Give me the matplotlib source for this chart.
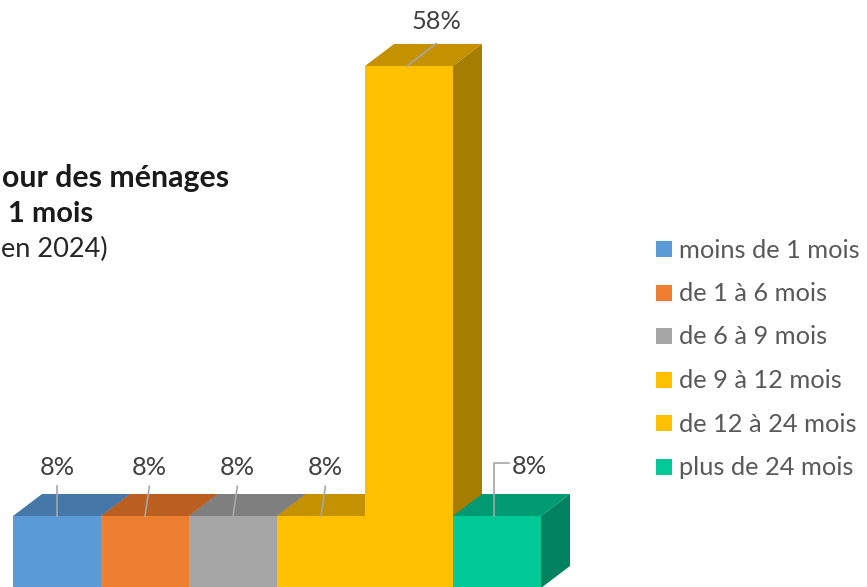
import matplotlib
matplotlib.use("Agg")
import matplotlib.pyplot as plt
from matplotlib.patches import Polygon, Rectangle

categories = ["moins de 1 mois", "de 1 à 6 mois", "de 6 à 9 mois",
              "de 9 à 12 mois", "de 12 à 24 mois", "plus de 24 mois"]
values = [8, 8, 8, 8, 58, 8]
labels = ["8%", "8%", "8%", "8%", "58%", "8%"]
title_lines = ["our des ménages", "1 mois", "en 2024)"]

front_colors = ["#5B9BD5", "#ED7D31", "#A5A5A5", "#FFC000", "#FFC000", "#00C896"]
top_colors = ["#4677A9", "#BB5F21", "#7F7F7F", "#C49200", "#C49200", "#009B72"]
side_colors = ["#3A6690", "#A0501B", "#6E6E6E", "#A57D00", "#A57D00", "#008261"]

W, H = 867, 587
fig = plt.figure(figsize=(W / 100, H / 100), dpi=100)
ax = fig.add_axes([0, 0, 1, 1])
ax.axis("off")
ax.set_xlim(-57 / 88, (W - 57) / 88)
ax.set_ylim(0.11, 65.33)

FONT = ["Lato", "DejaVu Sans"]
dx, dy = 29 / 88, 22 / 9
x = list(range(len(values)))
bars = ax.bar(x, values, width=1.0, color=front_colors, linewidth=0)
for i, (b, v) in enumerate(zip(bars, values)):
    z = 10 + i
    b.set_zorder(z)
    l, r = i - 0.5, i + 0.5
    top = Polygon([(l, v), (r, v), (r + dx, v + dy), (l + dx, v + dy)],
                  closed=True, facecolor=top_colors[i], edgecolor="none", zorder=z)
    side = Polygon([(r, 0), (r + dx, dy), (r + dx, v + dy), (r, v)],
                   closed=True, facecolor=side_colors[i], edgecolor="none", zorder=z)
    ax.add_patch(top)
    ax.add_patch(side)

# data labels with leader lines
lc = "#A6A6A6"
for i, v in enumerate(values):
    if v > 30:
        lx, ly = i + 0.31, v + 4.9
        ax.plot([i + 0.31, i - 0.02], [v + 2.5, v], color=lc, lw=1.2, zorder=30)
    elif i == len(values) - 1:
        lx, ly = i + 0.37, v + 5.5
        ax.plot([i + 0.14, i - 0.03, i - 0.03], [v + 5.9, v + 5.9, v],
                color=lc, lw=1.2, zorder=30)
    else:
        lx, ly = i + 0.05 * (i > 0), v + 5.4
        ax.plot([lx, i], [v + 3.3, v], color=lc, lw=1.2, zorder=30)
    ax.text(lx, ly, labels[i], ha="center", va="center", fontsize=18.3,
            color="#404040", family=FONT, zorder=31)

# title fragments (chart cropped on the left)
fig.text(2 / W, 1 - 178 / H, title_lines[0], ha="left", va="center",
         fontsize=21.8, fontweight="bold", color="#1A1A1A", family=FONT)
fig.text(8 / W, 1 - 214 / H, title_lines[1], ha="left", va="center",
         fontsize=21, fontweight="bold", color="#1A1A1A", family=FONT)
fig.text(1 / W, 1 - 249 / H, title_lines[2], ha="left", va="center",
         fontsize=19.5, color="#262626", family=FONT)

# legend
row_y = [249, 292.5, 336, 379.5, 423, 466.5]
for c, name, yy in zip(front_colors, categories, row_y):
    fig.patches.append(Rectangle((656 / W, 1 - (yy + 8) / H), 16 / W, 16 / H,
                                 transform=fig.transFigure, facecolor=c,
                                 edgecolor="none"))
    fig.text(679 / W, 1 - (yy + 1) / H, name, ha="left", va="center",
             fontsize=18.3, color="#595959", family=FONT)

fig.savefig("out.png", dpi=100)
